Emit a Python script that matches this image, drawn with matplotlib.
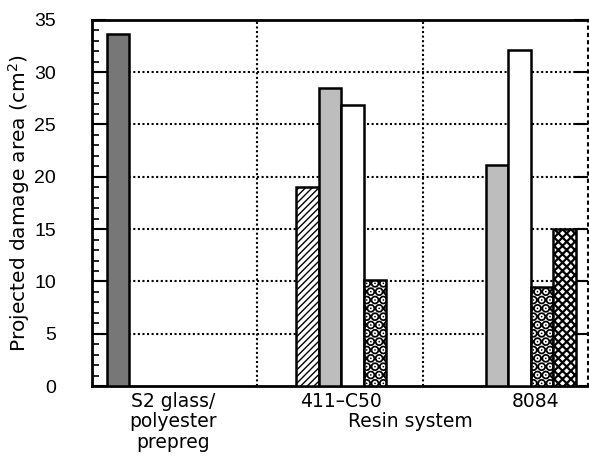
import numpy as np
import matplotlib
matplotlib.use("Agg")
import matplotlib.pyplot as plt
from matplotlib.ticker import MultipleLocator

plt.rcParams['font.family'] = ['DejaVu Sans']
plt.rcParams['mathtext.fontset'] = 'dejavusans'
plt.rcParams['mathtext.default'] = 'regular'

# resin systems along the x axis
groups = ["S2 glass/\npolyester\nprepreg", "411\u2013C50", "8084"]

# projected damage area (cm^2) per bar style, nan where no bar
dark = [33.6, np.nan, np.nan]
hatched = [np.nan, 19.0, np.nan]
light = [np.nan, 28.5, 21.1]
white = [np.nan, 26.9, 32.1]
dotted = [np.nan, 10.1, 9.5]
cross = [np.nan, np.nan, 15.0]

yticks = [0, 5, 10, 15, 20, 25, 30, 35]

# layout (x in units of one gridline section)
group_left = [0.09, 1.237, 2.248]
label_x = [0.489, 1.509, 2.686]
bar_w = 0.136

series = [
    (dark, 0, dict(facecolor="#777777"), 1.0),
    (hatched, 0, dict(facecolor="white", hatch="/////"), 1.0),
    (light, 1, dict(facecolor="#bdbdbd"), 1.0),
    (white, 2, dict(facecolor="white"), 1.0),
    (dotted, 3, dict(facecolor="white", hatch=".."), 5.0),
    (cross, 4, dict(facecolor="white", hatch="xxxx"), 1.6),
]

fig = plt.figure(figsize=(5.89, 4.72), dpi=100)
ax = fig.add_axes([0.156, 0.182, 0.842, 0.776])

for vals, slot, style, hlw in series:
    xs = [group_left[g] + slot * bar_w for g in range(len(groups))]
    with plt.rc_context({'hatch.linewidth': hlw}):
        ax.bar(xs, vals, width=bar_w, align='edge', edgecolor='black',
               linewidth=1.8, zorder=3, **style)

ax.set_xlim(0, 3)
ax.set_ylim(0, 35)

# dotted grid
for y in yticks[1:-1]:
    ax.axhline(y, color='black', linestyle=(0, (1, 1.2)), linewidth=1.5, zorder=1)
for x in [1, 2]:
    ax.axvline(x, color='black', linestyle=(0, (1, 1.2)), linewidth=1.5, zorder=1)

ax.set_yticks(yticks)
ax.set_yticklabels([str(v) for v in yticks], family='Liberation Sans', fontsize=14)
ax.yaxis.set_minor_locator(MultipleLocator(1))
ax.tick_params(axis='y', which='major', direction='in', length=10, width=1.5,
               pad=26, right=True)
ax.tick_params(axis='y', which='minor', direction='in', length=5, width=1.2,
               right=False)
ax.set_xticks(label_x)
ax.set_xticklabels(groups, fontsize=13.5, linespacing=1.1)
ax.tick_params(axis='x', length=0, pad=4)

for side in ['left', 'top', 'bottom']:
    ax.spines[side].set_linewidth(2)
ax.spines['right'].set_linestyle((0, (1, 2.5)))
ax.spines['right'].set_linewidth(1.5)

ax.set_ylabel("Projected damage area (cm$^{2}$)", fontsize=14.5)
ax.yaxis.set_label_coords(-0.12, 0.5)

ax.text(1.926, -0.098, "Resin system", transform=ax.get_xaxis_transform(),
        ha='center', va='center', fontsize=13.5)

fig.savefig("out.png", dpi=100)
